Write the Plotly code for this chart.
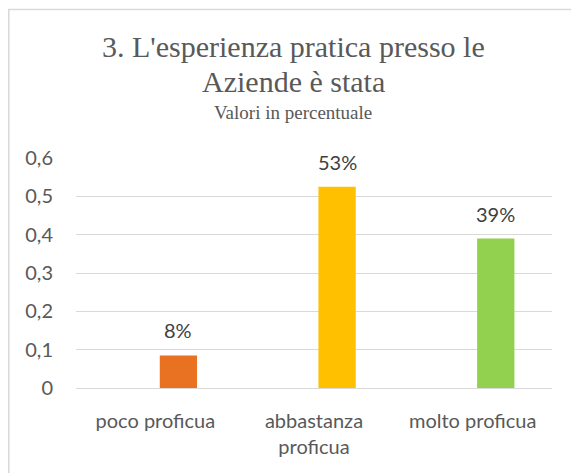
import plotly.graph_objects as go

# valori
categorie = ["poco proficua", "abbastanza<br>proficua", "molto proficua"]
valori = [0.085, 0.525, 0.39]
etichette = ["8%", "53%", "39%"]
colori = ["#E97122", "#FFC000", "#92D050"]

titolo_1 = "3. L'esperienza pratica presso le"
titolo_2 = "Aziende è stata"
sottotitolo = "Valori in percentuale"

grigio_testo = "#595959"
grigio_linee = "#D9D9D9"

bar_width = 0.235
bar_offset = 0.028

fig = go.Figure()
fig.add_trace(go.Bar(
    x=categorie,
    y=valori,
    marker=dict(color=colori, line=dict(width=0)),
    width=bar_width,
    offset=bar_offset,
    showlegend=False,
    hoverinfo="skip",
))

# etichette sopra le barre
for i, (v, t) in enumerate(zip(valori, etichette)):
    fig.add_annotation(
        x=i + bar_offset + bar_width / 2, y=v, text=t,
        xref="x", yref="y", showarrow=False,
        yanchor="bottom", yshift=11,
        font=dict(family="Lato", size=20, color="#404040"),
    )

# titolo su due righe + sottotitolo
for testo, ypos, size in [(titolo_1, 1.405, 30), (titolo_2, 1.251, 30), (sottotitolo, 1.143, 19)]:
    fig.add_annotation(
        x=0.456, y=ypos, xref="paper", yref="paper",
        text=testo, showarrow=False,
        yanchor="bottom", xanchor="center",
        font=dict(family="Liberation Serif", size=size, color=grigio_testo),
    )

# bordo del riquadro
fig.add_shape(
    type="rect", xref="paper", yref="paper",
    x0=-0.1412, y0=-0.6, x1=1.3, y1=1.646,
    line=dict(color=grigio_linee, width=1.5),
    fillcolor="rgba(0,0,0,0)", layer="below",
)

fig.update_layout(
    width=579, height=473,
    margin=dict(l=68, r=35, t=150, b=93),
    paper_bgcolor="white", plot_bgcolor="white",
    separators=",.",
    font=dict(family="Lato", size=20, color=grigio_testo),
)

fig.update_yaxes(
    range=[0, 0.6], dtick=0.1, showgrid=True,
    gridcolor=grigio_linee, gridwidth=1,
    zeroline=True, zerolinecolor=grigio_linee, zerolinewidth=1,
    showline=False, ticks="", ticklabelstandoff=22,
    tickfont=dict(family="Lato", size=20, color=grigio_testo),
)
fig.update_xaxes(
    showline=False, showgrid=False, ticks="", ticklabelstandoff=19,
    tickfont=dict(family="Lato", size=20, color=grigio_testo),
)

fig.write_html("out.html")
